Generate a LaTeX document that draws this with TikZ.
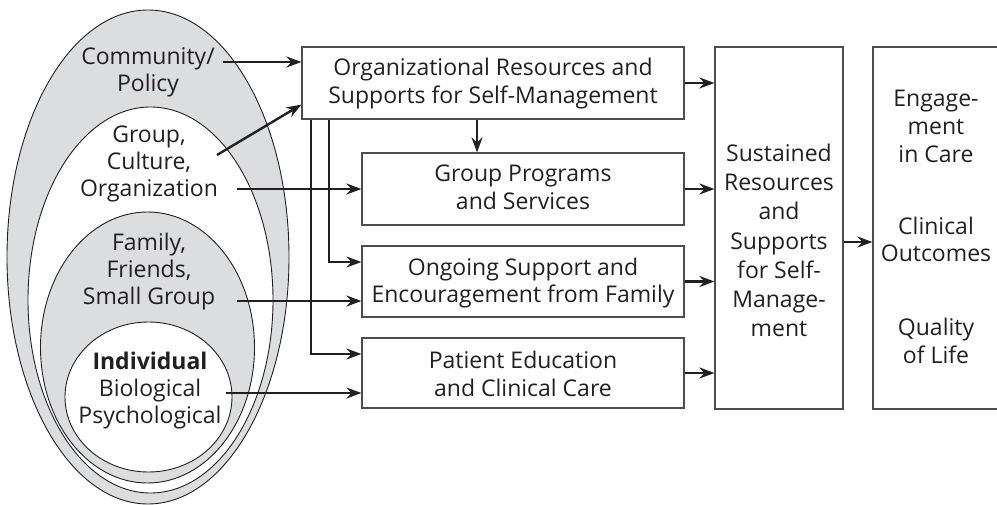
\documentclass[tikz,border=0pt]{standalone}
\usepackage{fontspec}
\setmainfont{Open Sans}
\usetikzlibrary{arrows.meta}
\definecolor{shade}{RGB}{220,221,222}
\definecolor{ink}{RGB}{35,31,32}
\begin{document}
\begin{tikzpicture}[x=1pt,y=-1pt,
 box/.style={draw=ink!80,line width=1.2pt,inner sep=0pt},
 txt/.style={align=center,text=ink,inner sep=0pt,anchor=base},
 t27/.style={font=\fontsize{23}{27}\selectfont},
 t28/.style={font=\fontsize{23}{28}\selectfont},
 t29/.style={font=\fontsize{23}{29.3}\selectfont},
 arr/.style={draw=ink,line width=2.4pt,-{Stealth[length=15pt,width=11pt,inset=5pt]}},
 ring/.style={draw=ink,line width=0.9pt}]
\useasboundingbox (0,0) rectangle (997,505);
% nested ellipses
\filldraw[ring,fill=shade] (148,257) ellipse [x radius=141pt,y radius=247pt];
\filldraw[ring,fill=white] (150.5,300) ellipse [x radius=122.5pt,y radius=193pt];
\filldraw[ring,fill=shade] (147.5,347.5) ellipse [x radius=107pt,y radius=135.5pt];
\filldraw[ring,fill=white] (148.5,397) ellipse [x radius=83.5pt,y radius=75pt];
% ellipse texts (anchor = last baseline)
\node[txt,t27] (comm) at (148,92) {Community/\\Policy};
\node[txt,t27] (grpt) at (149,197) {Group,\\Culture,\\Organization};
\node[txt,t27] (famt) at (149,305) {Family,\\Friends,\\Small Group};
\node[txt,t27] (indt) at (150,423) {\textbf{Individual}\\Biological\\Psychological};
% boxes
\node[box,minimum width=382pt,minimum height=72pt] (org) at (493,83) {};
\node[box,minimum width=322pt,minimum height=72pt] (grp) at (523,189) {};
\node[box,minimum width=322pt,minimum height=71pt] (ong) at (523,281.5) {};
\node[box,minimum width=322pt,minimum height=70pt] (pat) at (523,373) {};
\node[box,minimum width=128pt,minimum height=362pt] (sus) at (779,228) {};
\node[box,minimum width=128pt,minimum height=362pt] (out) at (937,228) {};
% box texts
\node[txt,t28] (orgt) at (493,104) {Organizational Resources and\\Supports for Self-Management};
\node[txt,t28] (grpbt) at (523,210) {Group Programs\\and Services};
\node[txt,t28] (ongt) at (523,303) {Ongoing Support and\\Encouragement from Family};
\node[txt,t28] (patt) at (523,396) {Patient Education\\and Clinical Care};
\node[txt,t29] (sust) at (779,337) {Sustained\\Resources\\and\\Supports\\for Self-\\Manage-\\ment};
\node[txt,t28] (oc1) at (936,163) {Engage-\\ment\\in Care};
\node[txt,t28] (oc2) at (936,262) {Clinical\\Outcomes};
\node[txt,t28] (oc3) at (936,363) {Quality\\of Life};
% connectors from ellipses
\coordinate (s1) at (223,62);
\coordinate (s2) at (217,155);
\coordinate (s3) at (237,189);
\coordinate (s4) at (237,301);
\coordinate (s5) at (226,393);
\draw[arr] (s1) -- (s1 -| org.west);
\draw[arr] (s2) -- ([yshift=15pt]org.south west);
\draw[arr] (s3) -- (s3 -| grp.west);
\draw[arr] (s4) -- (s4 -| ong.west);
\draw[arr] (s5) -- (s5 -| pat.west);
% vertical feeders from org box
\coordinate (v1) at (311,354);
\coordinate (v2) at (329,262);
\draw[arr] (org.south west -| v1) -- (v1) -- (v1 -| pat.west);
\draw[arr] (org.south west -| v2) -- (v2) -- (v2 -| ong.west);
\draw[arr] (org.south -| 477,0) -- (grp.north -| 477,0);
% to sustained
\draw[arr] (org.east) -- (org.east -| sus.west);
\draw[arr] (grp.east) -- (grp.east -| sus.west);
\draw[arr] (ong.east) -- (ong.east -| sus.west);
\draw[arr] (pat.east) -- (pat.east -| sus.west);
\coordinate (m) at (843,242);
\draw[arr] (m -| sus.east) -- (m -| out.west);
\end{tikzpicture}
\end{document}
